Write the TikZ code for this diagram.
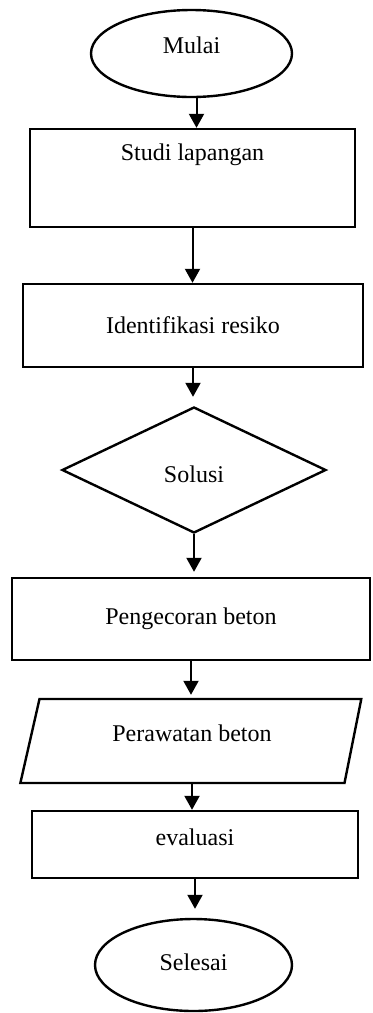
\documentclass[tikz,border=0pt]{standalone}
\usepackage{fontspec}
\setmainfont{Liberation Serif}
\usetikzlibrary{arrows.meta, shapes.geometric}

\tikzset{
  startstop/.style={draw, ellipse, line width=1.2pt, inner sep=0pt},
  procbox/.style={draw, rectangle, line width=1.2pt, inner sep=0pt},
  decision/.style={draw, diamond, line width=1.2pt, inner sep=0pt},
  iobox/.style={draw, trapezium, trapezium stretches=true, line width=1.2pt, inner sep=0pt},
  flowarrow/.style={-{Triangle[width=7.5pt,length=7pt]}, line width=1pt},
}

\begin{document}
\begin{tikzpicture}[x=0.5pt, y=-0.5pt, font=\fontsize{12}{14}\selectfont]
  \useasboundingbox (0,0) rectangle (372,1013);

  % Flowchart nodes
  \node[startstop, minimum width=100.5pt, minimum height=43.5pt, text depth=8pt] (mulai) at (191.5,53.5) {Mulai};
  \node[procbox, minimum width=162.5pt, minimum height=49pt, text depth=25.6pt] (studi) at (192.5,178) {Studi lapangan};
  \node[procbox, minimum width=170pt, minimum height=41.5pt] (identifikasi) at (193,325.5) {Identifikasi resiko};
  \node[decision, minimum width=132pt, minimum height=63pt, text height=13pt] (solusi) at (194,470) {Solusi};
  \node[procbox, minimum width=179pt, minimum height=41pt] (pengecoran) at (191,619) {Pengecoran beton};
  \node[iobox, trapezium left angle=73, trapezium right angle=105, minimum width=171pt, minimum height=42pt, text depth=8pt] (perawatan) at (192,741) {Perawatan beton};
  \node[procbox, minimum width=163pt, minimum height=33.5pt, text depth=7pt] (evaluasi) at (195,844.5) {evaluasi};
  \node[startstop, minimum width=98.5pt, minimum height=46pt, text depth=3pt] (selesai) at (193.5,965) {Selesai};

  % Arrows
  \draw[flowarrow] ([xshift=2.5pt]mulai.south) -- ([xshift=2.5pt]mulai.south |- studi.north);
  \draw[flowarrow] (studi.south) -- (studi.south |- identifikasi.north);
  \draw[flowarrow, shorten >=4.5pt] (identifikasi.south) -- (identifikasi.south |- solusi.north);
  \draw[flowarrow, shorten >=2.5pt] (solusi.south) -- (solusi.south |- pengecoran.north);
  \draw[flowarrow, shorten >=1.5pt] (pengecoran.south) -- (pengecoran.south |- perawatan.north);
  \draw[flowarrow] (perawatan.south) -- (perawatan.south |- evaluasi.north);
  \draw[flowarrow, shorten >=4.5pt] (evaluasi.south) -- (evaluasi.south |- selesai.north);

\end{tikzpicture}
\end{document}
